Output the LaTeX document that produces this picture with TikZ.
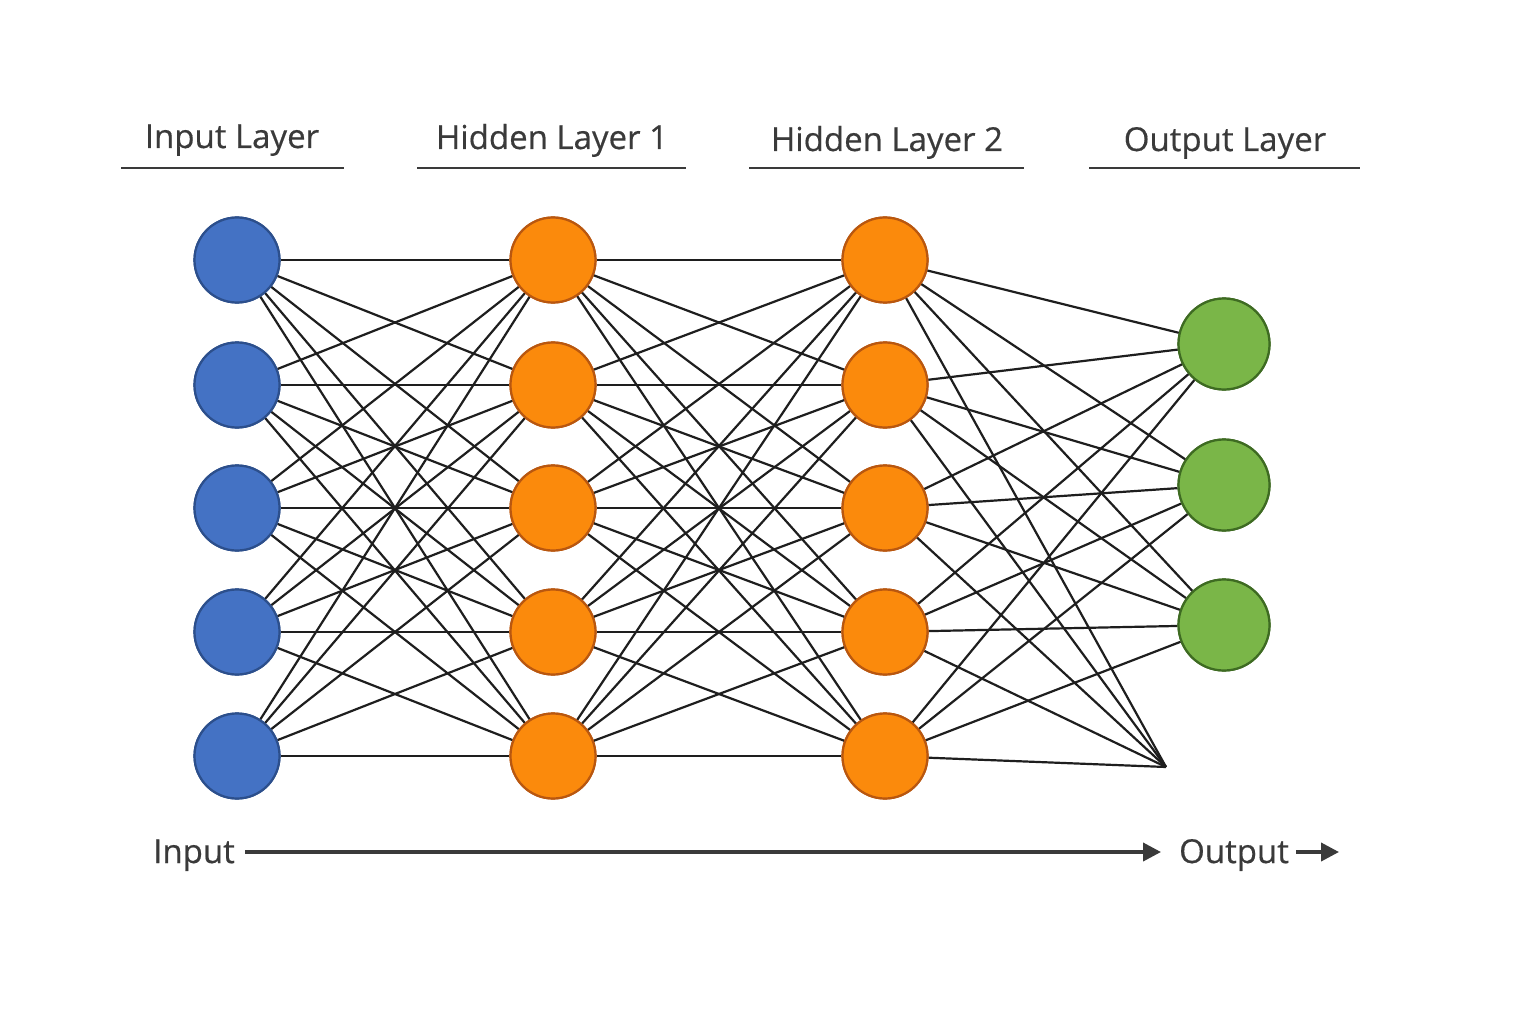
\documentclass[tikz,border=0pt]{standalone}
\usepackage{fontspec}
\setmainfont{Open Sans}[BoldFont=Open Sans, BoldFeatures={FakeBold=0.45}]
\usetikzlibrary{arrows.meta}
\definecolor{txt}{HTML}{3A3A3A}
\definecolor{inF}{HTML}{4472C4}\definecolor{inD}{HTML}{2C4F8C}
\definecolor{hdF}{HTML}{FB8A0C}\definecolor{hdD}{HTML}{B9570F}
\definecolor{otF}{HTML}{7AB648}\definecolor{otD}{HTML}{3E6B22}
\definecolor{edge}{HTML}{1E1E1E}
\tikzset{
  neuron/.style={circle, minimum size=85pt, inner sep=0pt, line width=2.2pt},
  inN/.style={neuron, fill=inF, draw=inD},
  hdN/.style={neuron, fill=hdF, draw=hdD},
  otN/.style={neuron, fill=otF, draw=otD, minimum size=91pt},
  conn/.style={draw=edge, line width=2.2pt},
  title/.style={text=txt, font=\fontsize{33}{36}\selectfont\bfseries, anchor=base},
  rule/.style={draw=txt, line width=1.4pt},
  flow/.style={draw=txt, line width=3.8pt, -{Triangle[length=18pt,width=18pt]}},
  flowlbl/.style={text=txt, font=\fontsize{33}{36}\selectfont\bfseries, anchor=base},
}
\begin{document}
\begin{tikzpicture}[x=1pt,y=-1pt]
\useasboundingbox[fill=white] (0,0) rectangle (1536,1024);
% titles
\node[title] (t1) at (232,148) {Input Layer};
\node[title] (t2) at (552,149) {Hidden Layer 1};
\node[title] (t3) at (887,151) {Hidden Layer 2};
\node[title] (t4) at (1225,151) {Output Layer};
\coordinate (u1a) at (121,168); \coordinate (u1b) at (344,168);
\coordinate (u2a) at (417,168); \coordinate (u2b) at (686,168);
\coordinate (u3a) at (749,168); \coordinate (u3b) at (1024,168);
\coordinate (u4a) at (1089,168); \coordinate (u4b) at (1360,168);
\draw[rule] (u1a) -- (u1b);
\draw[rule] (u2a) -- (u2b);
\draw[rule] (u3a) -- (u3b);
\draw[rule] (u4a) -- (u4b);
% neurons (placement for connector anchors)
\foreach \i/\y in {1/260,2/385,3/508,4/632,5/756}{
  \node[inN] (a\i) at (237,\y) {};
  \node[hdN] (b\i) at (553,\y) {};
  \node[hdN] (c\i) at (885,\y) {};
}
\foreach \i/\y in {1/344,2/485,3/625}{
  \node[otN] (d\i) at (1224,\y) {};
}
\coordinate (d4) at (1166,767);
% connections
\foreach \i in {1,...,5}{
  \foreach \j in {1,...,5}{
    \draw[conn] (a\i) -- (b\j);
    \draw[conn] (b\i) -- (c\j);
  }
  \foreach \j in {1,2,3}{
    \draw[conn] (c\i) -- (d\j);
  }
  \draw[conn] (c\i) -- (d4);
}
% neurons drawn again above the connectors
\foreach \i/\y in {1/260,2/385,3/508,4/632,5/756}{
  \node[inN] at (237,\y) {};
  \node[hdN] at (553,\y) {};
  \node[hdN] at (885,\y) {};
}
\foreach \i/\y in {1/344,2/485,3/625}{
  \node[otN] at (1224,\y) {};
}
% flow arrow
\node[flowlbl] (fin) at (194,863) {Input};
\node[flowlbl] (fout) at (1234,863) {Output};
\coordinate (fs) at (245,852);
\coordinate (fe) at (1161,852);
\coordinate (gs) at (1296,852);
\coordinate (ge) at (1339,852);
\draw[flow] (fs) -- (fe);
\draw[flow] (gs) -- (ge);
\end{tikzpicture}
\end{document}
